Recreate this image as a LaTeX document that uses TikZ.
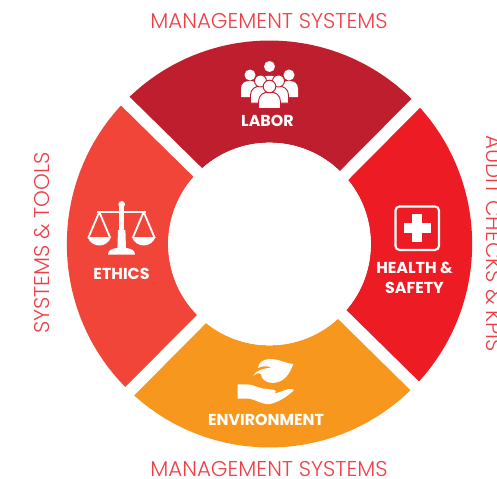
\documentclass[tikz,border=0pt]{standalone}
\usepackage{fontspec}
\setmainfont{Poppins}
\newfontfamily\lightf{Poppins Light}
\definecolor{labor}{HTML}{BE1E2D}
\definecolor{ethics}{HTML}{F1453A}
\definecolor{health}{HTML}{ED1C24}
\definecolor{envir}{HTML}{F8971D}
\definecolor{outer}{HTML}{EE3F47}
\tikzset{
  x=0.75pt,y=-0.75pt,
  gap/.style={draw=white,line width=9pt},
  outerlabel/.style={text=outer,font=\lightf\fontsize{16.05}{18}\selectfont,inner sep=0pt},
  catlabel/.style={text=white,font=\bfseries\fontsize{11.9}{15}\selectfont,inner sep=0pt,align=center},
  icon/.style={fill=white,draw=none},
  person/.style={fill=white,draw=labor,line width=0.7pt},
}
\newcommand{\annular}[3]{%
  \fill[#1] ($(ctr)+(#2:152pt and 152.6pt)$) arc[start angle=#2,end angle=#3,x radius=152pt,y radius=152.6pt]
   -- ($(ctr)+(#3:76pt)$) arc[start angle=#3,end angle=#2,radius=76pt] -- cycle;}
\usetikzlibrary{calc}
\begin{document}
\begin{tikzpicture}
\useasboundingbox (0,0) rectangle (497,479);
\fill[white] (0,0) rectangle (497,479);
\coordinate (ctr) at (269.5,244);
% sectors
\annular{labor}{45}{135}
\annular{ethics}{135}{225}
\annular{envir}{225}{315}
\annular{health}{-45}{45}
% gaps
\coordinate (g1a) at (118,94);
\coordinate (g1b) at (420,391);
\coordinate (g2a) at (423,96);
\coordinate (g2b) at (124,397);
\draw[gap] (g1a) -- (g1b);
\draw[gap] (g2a) -- (g2b);
\fill[white] (ctr) circle[radius=76pt];
% people
\fill[icon] (269.5,66.5) circle[radius=5.5];
\fill[icon] (259,88) -- (259,81) .. controls (262,74) and (277,74) .. (280,81) -- (280,88) -- cycle;
\foreach \x in {250,289}{
  \fill[icon] (\x,75) circle[radius=5.5];
  \fill[icon] (\x-9,97) -- (\x-9,89) .. controls (\x-9,83) and (\x-5,81) .. (\x,81) .. controls (\x+5,81) and (\x+9,83) .. (\x+9,89) -- (\x+9,97) -- cycle;
}
\foreach \x in {260.5,278.5}{
  \fill[person] (\x-10,103) -- (\x-10,95) .. controls (\x-10,89) and (\x-5,86) .. (\x,86) .. controls (\x+5,86) and (\x+10,89) .. (\x+10,95) -- (\x+10,103) -- cycle;
  \fill[person] (\x,81) circle[radius=6];
}
\fill[person] (258.5,108.5) -- (258.5,102) .. controls (258.5,95) and (263,92) .. (269.5,92) .. controls (276,92) and (280.5,95) .. (280.5,102) -- (280.5,108.5) -- cycle;
\fill[person] (269.5,86.5) circle[radius=6.3];
% scales
\fill[icon] (121.7,204.3) circle[radius=3.3];
\fill[icon] (97,210.5) rectangle (146,213);
\fill[icon] (119.3,205) rectangle (124.1,232);
\fill[icon] (118,230) -- (125.4,230) -- (126,249) -- (117.4,249) -- cycle;
\fill[icon] (108,254.5) .. controls (108,250) and (112,249) .. (116,248) -- (127,248) .. controls (131,249) and (135,250) .. (135,254.5) -- cycle;
\foreach \x in {99.3,143.7}{
  \draw[white,line width=1.4pt,line join=round] (\x-11,238) -- (\x,212) -- (\x+11,238);
  \fill[icon] (\x-11.7,237) -- (\x+11.7,237) .. controls (\x+10,243) and (\x+4,245.5) .. (\x,245.5) .. controls (\x-4,245.5) and (\x-10,243) .. (\x-11.7,237) -- cycle;
}
% first aid
\draw[white,line width=1.6pt,rounded corners=3pt] (395.5,206.5) rectangle (439,250);
\fill[icon] (412.2,214) rectangle (422.4,241.6);
\fill[icon] (403.5,222.7) rectangle (431.2,232.8);
% leaf and hand
\fill[icon] (258,368) .. controls (258,363) and (263,359) .. (270,359) .. controls (280,359) and (287,364) .. (293.3,364) .. controls (290,372) and (286,382) .. (273,383) .. controls (266,383) and (261,379) .. (261,374) .. controls (258,372.5) and (255,373.5) .. (253.3,376) .. controls (255,371) and (262,368.5) .. (272,367.5) .. controls (266,365.5) and (262,366) .. (258,368) -- cycle;
\fill[icon] (237.7,384.3) -- (247,384.3) .. controls (253,384.5) and (259,388) .. (263,388.5) -- (272,389.5) .. controls (276,390) and (277,392) .. (275,393.5) .. controls (281,392) and (288,388) .. (292,389) .. controls (295,389.5) and (293.5,391) .. (292,392) .. controls (286,397) and (279,402) .. (270,404) .. controls (262,405) and (254,398.5) .. (247,398.5) -- (237.7,398.5) -- cycle;
% labels
\node[catlabel] (lab) at (267.5,120.5) {LABOR};
\node[catlabel] (eth) at (121.5,273.5) {ETHICS};
\node[catlabel] (hs) at (414.5,277.5) {HEALTH \&\\SAFETY};
\node[catlabel] (env) at (266,419.5) {ENVIRONMENT};
\node[outerlabel] (t1) at (269,21) {MANAGEMENT SYSTEMS};
\node[outerlabel] (t2) at (269,469) {MANAGEMENT SYSTEMS};
\node[outerlabel,rotate=90] (t3) at (42,243) {SYSTEMS \& TOOLS};
\node[outerlabel,rotate=-90] (t4) at (494,243.5) {AUDIT CHECKS \& KPIS};
\end{tikzpicture}
\end{document}
